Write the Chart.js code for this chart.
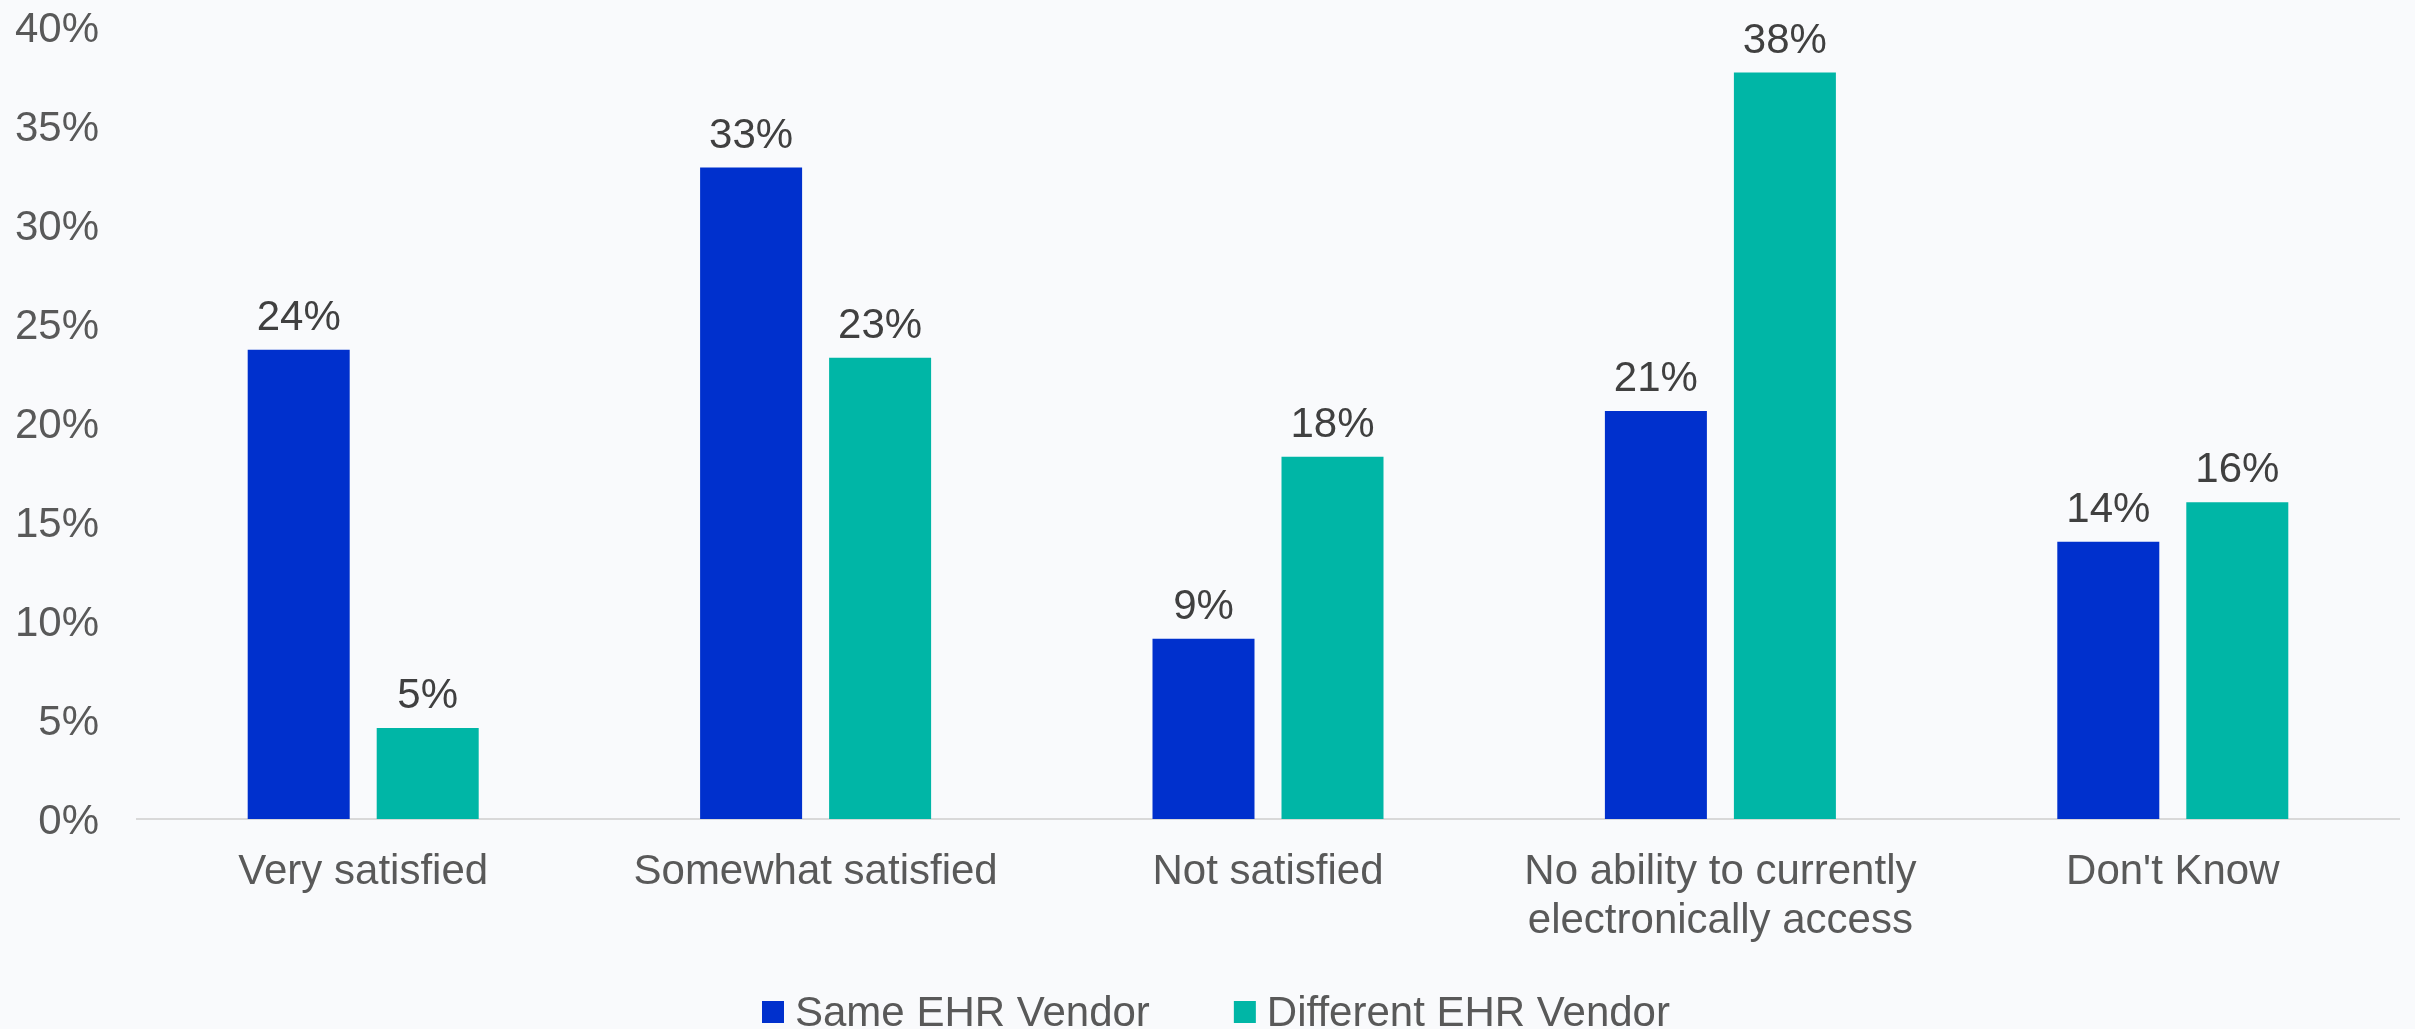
<!DOCTYPE html>
<html>
<head>
<meta charset="utf-8">
<script src="https://cdn.jsdelivr.net/npm/chart.js@4.4.1/dist/chart.umd.min.js"></script>
<style>
  html, body { margin: 0; padding: 0; background: #f9fafc; }
  #wrap { width: 2415px; height: 1029px; position: relative; }
</style>
</head>
<body>
<div id="wrap"><canvas id="c"></canvas></div>
<script>
const categories = [
  'Very satisfied',
  'Somewhat satisfied',
  'Not satisfied',
  ['No ability to currently', 'electronically access'],
  "Don't Know"
];
const seriesNames = ['Same EHR Vendor', 'Different EHR Vendor'];
const sameVendor = [23.7, 32.9, 9.1, 20.6, 14.0];
const differentVendor = [4.6, 23.3, 18.3, 37.7, 16.0];
const yTicks = [0, 5, 10, 15, 20, 25, 30, 35, 40];

const FONT = '"Liberation Sans", Arial, sans-serif';
const colors = ['#0030CD', '#00B6A6'];

const valueLabels = {
  id: 'valueLabels',
  afterDatasetsDraw(chart) {
    const ctx = chart.ctx;
    ctx.save();
    ctx.font = '42px ' + FONT;
    ctx.fillStyle = '#404040';
    ctx.textAlign = 'center';
    ctx.textBaseline = 'alphabetic';
    chart.data.datasets.forEach((ds, i) => {
      chart.getDatasetMeta(i).data.forEach((bar, j) => {
        ctx.fillText(Math.round(ds.data[j]) + '%', bar.x, bar.y - 20);
      });
    });
    ctx.restore();
  }
};

const customLegend = {
  id: 'customLegend',
  afterDraw(chart) {
    const ctx = chart.ctx;
    ctx.save();
    ctx.font = '42px ' + FONT;
    ctx.textBaseline = 'alphabetic';
    ctx.textAlign = 'left';
    let x = 762;
    const boxTop = 1001, box = 22, baseline = 1026;
    chart.data.datasets.forEach((ds, i) => {
      ctx.fillStyle = ds.backgroundColor;
      ctx.fillRect(x, boxTop, box, box);
      ctx.fillStyle = '#595959';
      ctx.fillText(ds.label, x + box + 11, baseline);
      x += box + 11 + ctx.measureText(ds.label).width + 84;
    });
    ctx.restore();
  }
};

new Chart(document.getElementById('c'), {
  type: 'bar',
  data: {
    labels: categories,
    datasets: [
      { label: seriesNames[0], data: sameVendor, backgroundColor: colors[0],
        categoryPercentage: 0.5703, barPercentage: 0.7907 },
      { label: seriesNames[1], data: differentVendor, backgroundColor: colors[1],
        categoryPercentage: 0.5703, barPercentage: 0.7907 }
    ]
  },
  options: {
    responsive: true,
    maintainAspectRatio: false,
    animation: false,
    layout: { padding: { top: 0, right: 16, bottom: 0, left: 0 } },
    plugins: {
      legend: { display: false },
      tooltip: { enabled: false }
    },
    scales: {
      x: {
        grid: { display: false, drawTicks: false },
        border: { display: true, color: '#d9d9d9', width: 2 },
        ticks: {
          color: '#595959',
          font: { family: FONT, size: 42, lineHeight: 1.17 },
          padding: 29,
          maxRotation: 0,
          autoSkip: false
        },
        afterFit(scale) { scale.height = 210; }
      },
      y: {
        min: 0,
        max: 40,
        grid: { display: false, drawTicks: false },
        border: { display: false },
        afterBuildTicks(scale) { scale.ticks = yTicks.map(v => ({ value: v })); },
        ticks: {
          color: '#595959',
          font: { family: FONT, size: 42, lineHeight: 1.17 },
          padding: 38,
          labelOffset: 3,
          callback: v => v + '%'
        },
        afterFit(scale) {
          scale.width = 137;
          scale.paddingTop = 27;
          scale.paddingBottom = 0;
        }
      }
    }
  },
  plugins: [valueLabels, customLegend]
});
</script>
</body>
</html>
